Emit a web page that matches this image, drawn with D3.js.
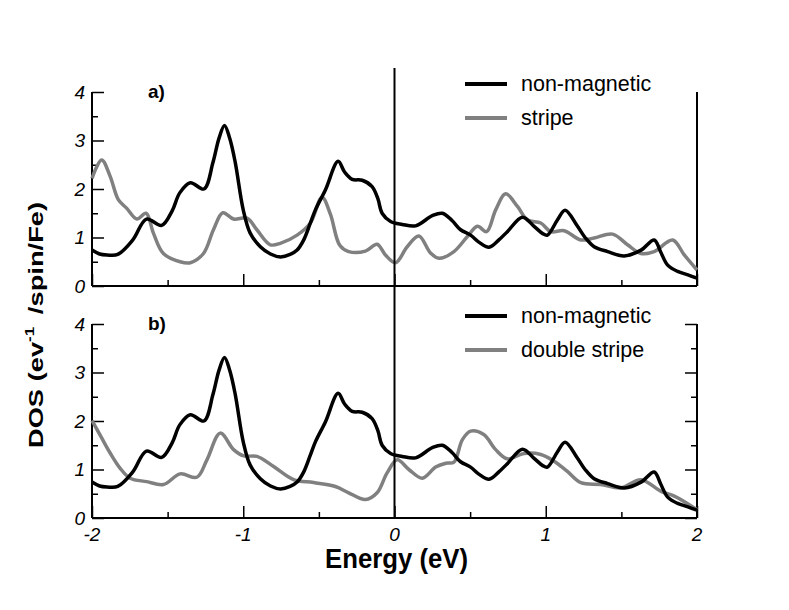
<!DOCTYPE html>
<html lang="en">
<head>
    <meta charset="UTF-8">
    <script src="https://d3js.org/d3.v7.min.js"></script>
    <title>DOS</title>
    <style>
        body { margin: 0; background: white; }
        text { font-family: "Liberation Sans", Arial, sans-serif; }
    </style>
</head>
<body>
<div id="chart"></div>
<script>
    // non-magnetic DOS (same curve in both panels)
    var nmE   = [-2.00,-1.95,-1.90,-1.83,-1.73,-1.64,-1.54,-1.47,-1.42,-1.35,-1.26,-1.20,-1.16,-1.124,-1.09,-1.053,-1.00,-0.954,-0.887,-0.82,-0.755,-0.69,-0.644,-0.60,-0.556,-0.523,-0.457,-0.373,-0.33,-0.28,-0.214,-0.148,-0.11,-0.082,-0.026,0.051,0.139,0.25,0.316,0.38,0.437,0.503,0.56,0.625,0.69,0.746,0.846,0.923,0.98,1.011,1.077,1.128,1.21,1.26,1.32,1.409,1.519,1.63,1.717,1.76,1.806,1.872,1.94,2.00];
    var nmDos = [0.74,0.66,0.64,0.65,0.95,1.38,1.25,1.55,1.92,2.13,2.00,2.55,3.05,3.31,3.05,2.55,1.57,1.09,0.81,0.66,0.60,0.65,0.74,0.95,1.30,1.57,1.98,2.57,2.35,2.20,2.18,2.05,1.80,1.50,1.33,1.27,1.24,1.45,1.50,1.35,1.16,1.05,0.90,0.80,0.95,1.12,1.42,1.23,1.08,1.05,1.36,1.56,1.23,1.00,0.81,0.71,0.62,0.74,0.95,0.70,0.43,0.30,0.23,0.16];

    // stripe DOS (panel a)
    var stE   = [-2.00,-1.936,-1.88,-1.826,-1.77,-1.704,-1.642,-1.594,-1.528,-1.417,-1.35,-1.263,-1.197,-1.135,-1.064,-0.975,-0.91,-0.821,-0.755,-0.644,-0.556,-0.479,-0.424,-0.362,-0.303,-0.192,-0.115,-0.06,0.007,0.084,0.161,0.238,0.294,0.393,0.482,0.548,0.609,0.669,0.735,0.813,0.879,0.967,1.033,1.121,1.232,1.32,1.442,1.541,1.629,1.717,1.839,1.916,2.00];
    var stDos = [2.22,2.60,2.26,1.78,1.60,1.38,1.50,1.09,0.67,0.50,0.48,0.67,1.16,1.51,1.38,1.40,1.16,0.85,0.88,1.05,1.30,1.83,1.48,0.84,0.71,0.72,0.86,0.64,0.48,0.81,1.03,0.68,0.57,0.71,1.02,1.23,1.12,1.57,1.90,1.64,1.36,1.30,1.12,1.14,0.95,0.99,1.07,0.85,0.67,0.71,0.95,0.64,0.33];

    // double stripe DOS (panel b)
    var dsE   = [-2.00,-1.936,-1.88,-1.815,-1.748,-1.638,-1.528,-1.417,-1.307,-1.24,-1.152,-1.064,-0.997,-0.909,-0.799,-0.667,-0.535,-0.391,-0.303,-0.192,-0.115,-0.049,0.018,0.095,0.184,0.272,0.34,0.393,0.448,0.503,0.59,0.669,0.746,0.856,0.967,1.055,1.143,1.232,1.364,1.497,1.629,1.762,1.85,2.00];
    var dsDos = [2.01,1.65,1.34,1.03,0.82,0.75,0.69,0.91,0.84,1.20,1.75,1.41,1.28,1.27,1.06,0.79,0.73,0.65,0.52,0.38,0.52,0.93,1.20,1.00,0.82,1.05,1.13,1.15,1.61,1.79,1.72,1.41,1.22,1.33,1.31,1.17,0.96,0.73,0.69,0.62,0.79,0.55,0.45,0.17];

    var xTicks = [-2, -1, 0, 1, 2];
    var yTicks = [0, 1, 2, 3, 4];

    var canvasWidth = 789;
    var canvasHeight = 610;
    var left = 92, right = 697;
    var panels = [
        {top: 92, bottom: 286, label: "a)", second: "stripe", e: stE, dos: stDos, rightTicks: false, xLabels: false},
        {top: 324, bottom: 518, label: "b)", second: "double stripe", e: dsE, dos: dsDos, rightTicks: true, xLabels: true}
    ];

    var svg = d3.select("#chart").append("svg")
        .attr("width", canvasWidth)
        .attr("height", canvasHeight);

    var xScale = d3.scaleLinear().domain([-2, 2]).range([left, right]);

    function pairs(e, v) {
        return e.map(function(d, i) { return [d, v[i]]; });
    }

    panels.forEach(function(p) {
        var yScale = d3.scaleLinear().domain([0, 4]).range([p.bottom, p.top]);
        var g = svg.append("g");

        // x axis, ticks pointing inward
        var xAx = g.append("g")
            .attr("transform", "translate(0," + p.bottom + ")")
            .call(d3.axisTop(xScale).tickValues(d3.range(-2, 2.01, 0.5))
                .tickSize(6).tickFormat(""));
        xAx.selectAll(".tick line").filter(function(d) { return d % 1 === 0; }).attr("y2", -12);
        xAx.select(".domain").attr("stroke-width", 2).attr("d", "M" + left + ",0H" + right);
        xAx.selectAll(".tick line").attr("stroke-width", 1.5);

        // left axis
        var yAx = g.append("g")
            .attr("transform", "translate(" + left + ",0)")
            .call(d3.axisRight(yScale).tickValues(d3.range(0, 4.01, 0.5))
                .tickSize(6).tickFormat(""));
        yAx.selectAll(".tick line").filter(function(d) { return d % 1 === 0; }).attr("x2", 12);
        yAx.select(".domain").attr("stroke-width", 2).attr("d", "M0," + p.top + "V" + p.bottom);
        yAx.selectAll(".tick line").attr("stroke-width", 1.5);

        // right axis
        var rAx = g.append("g")
            .attr("transform", "translate(" + right + ",0)")
            .call(d3.axisLeft(yScale).tickValues(p.rightTicks ? d3.range(0, 4.01, 0.5) : [])
                .tickSize(6).tickFormat(""));
        rAx.selectAll(".tick line").filter(function(d) { return d % 1 === 0; }).attr("x2", -12);
        rAx.select(".domain").attr("stroke-width", 2).attr("d", "M0," + p.top + "V" + p.bottom);
        rAx.selectAll(".tick line").attr("stroke-width", 1.5);

        g.selectAll(".ylab").data(yTicks).enter().append("text")
            .attr("x", 85)
            .attr("y", function(d) { return yScale(d) + 6.5; })
            .attr("text-anchor", "end")
            .attr("font-size", "19px")
            .attr("font-style", "italic")
            .text(function(d) { return d; });

        if (p.xLabels) {
            g.selectAll(".xlab").data(xTicks).enter().append("text")
                .attr("x", function(d) { return xScale(d); })
                .attr("y", p.bottom + 23)
                .attr("text-anchor", "middle")
                .attr("font-size", "19px")
                .attr("font-style", "italic")
                .text(function(d) { return d; });
        }

        var line = d3.line()
            .x(function(d) { return xScale(d[0]); })
            .y(function(d) { return yScale(d[1]); })
            .curve(d3.curveCatmullRom.alpha(0.5));

        g.append("path").datum(pairs(p.e, p.dos))
            .attr("d", line).attr("fill", "none")
            .attr("stroke", "#808080").attr("stroke-width", 3.5);
        g.append("path").datum(pairs(nmE, nmDos))
            .attr("d", line).attr("fill", "none")
            .attr("stroke", "black").attr("stroke-width", 3.5);

        g.append("text")
            .attr("x", xScale(-1.63))
            .attr("y", p.top + 6)
            .attr("font-size", "19px")
            .attr("font-weight", "bold")
            .text(p.label);

        // legend
        var legend = [{name: "non-magnetic", color: "black"}, {name: p.second, color: "#808080"}];
        legend.forEach(function(l, i) {
            var ly = p.top - 8 + i * 34;
            g.append("line")
                .attr("x1", 465).attr("x2", 507)
                .attr("y1", ly).attr("y2", ly)
                .attr("stroke", l.color).attr("stroke-width", 4);
            g.append("text")
                .attr("x", 521).attr("y", ly + 7)
                .attr("font-size", "21.5px")
                .text(l.name);
        });
    });

    // Fermi level
    svg.append("line")
        .attr("x1", xScale(0)).attr("x2", xScale(0))
        .attr("y1", 68).attr("y2", 518)
        .attr("stroke", "black").attr("stroke-width", 2);

    svg.append("text")
        .attr("x", 325)
        .attr("y", 568)
        .attr("font-size", "27px")
        .attr("font-weight", "bold")
        .attr("textLength", 143)
        .attr("lengthAdjust", "spacingAndGlyphs")
        .text("Energy (eV)");

    var ylab = svg.append("text")
        .attr("transform", "translate(43,325) rotate(-90) scale(1.3,1)")
        .attr("text-anchor", "middle")
        .attr("font-size", "21px")
        .attr("font-weight", "bold");
    ylab.append("tspan").text("DOS (ev");
    ylab.append("tspan").attr("dy", -9).attr("font-size", "13px").text("-1");
    ylab.append("tspan").attr("dy", 9).attr("dx", 4).text(" /spin/Fe)");
</script>
</body>
</html>
